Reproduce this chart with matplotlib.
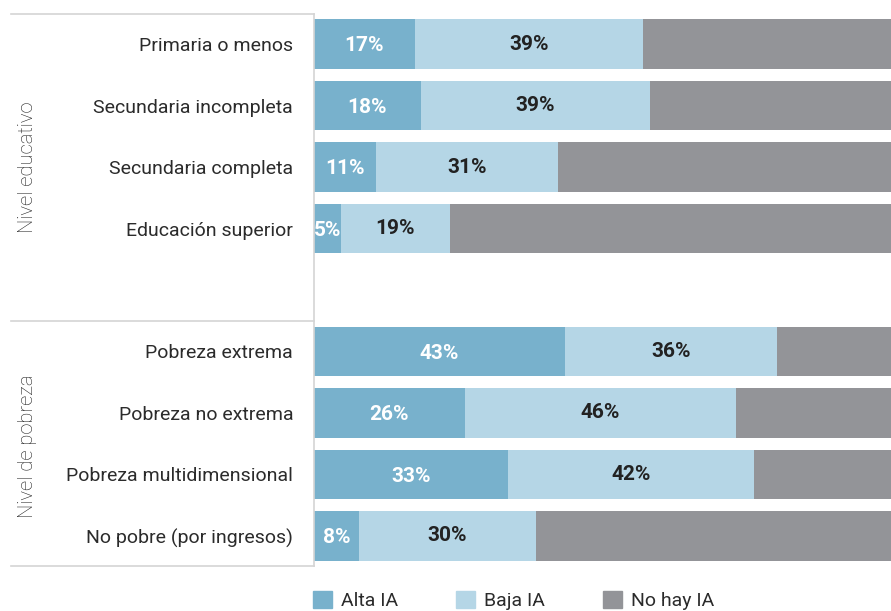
import matplotlib.pyplot as plt
from matplotlib.patches import Patch

plt.rcParams['font.family'] = ['Roboto', 'DejaVu Sans']

# datos (porcentajes)
categorias = ['Primaria o menos', 'Secundaria incompleta', 'Secundaria completa', 'Educación superior',
              '',
              'Pobreza extrema', 'Pobreza no extrema', 'Pobreza multidimensional', 'No pobre (por ingresos)']
alta_ia = [17.3, 18.3, 10.6, 4.6, 0, 43.0, 25.9, 33.2, 7.7]
baja_ia = [39.1, 39.4, 31.2, 18.7, 0, 36.4, 46.4, 42.3, 30.4]
no_hay_ia = [43.6, 42.3, 58.2, 76.7, 0, 20.6, 27.7, 24.5, 61.9]
grupos = ['Nivel educativo', 'Nivel de pobreza']
series = ['Alta IA', 'Baja IA', 'No hay IA']

c_alta = '#78b1cc'
c_baja = '#b5d6e6'
c_no = '#939498'
c_linea = '#d4d4d4'
c_texto = '#2b2b2b'

fig = plt.figure(figsize=(8.91, 6.11), dpi=100)
ax = fig.add_axes([314 / 891, 45 / 611, 583 / 891, 552 / 611])

y = list(range(len(categorias)))
h = 0.81
ax.barh(y, alta_ia, height=h, color=c_alta, edgecolor='none')
ax.barh(y, baja_ia, left=alta_ia, height=h, color=c_baja, edgecolor='none')
izq = [a + b for a, b in zip(alta_ia, baja_ia)]
ax.barh(y, no_hay_ia, left=izq, height=h, color=c_no, edgecolor='none')

# etiquetas de valores
for i in y:
    if categorias[i] == '':
        continue
    ax.text(alta_ia[i] / 2, i + 0.03, f'{round(alta_ia[i])}%', ha='center', va='center',
            color='white', fontsize=15, fontweight='bold')
    ax.text(alta_ia[i] + baja_ia[i] / 2, i, f'{round(baja_ia[i])}%', ha='center', va='center',
            color='#222222', fontsize=15, fontweight='bold')

ax.set_xlim(0, 100)
ax.set_ylim(8.49, -0.49)
ax.set_yticks([i for i in y if categorias[i] != ''])
ax.set_yticklabels([c for c in categorias if c != ''], fontsize=14, color=c_texto)
ax.tick_params(axis='y', length=0, pad=15)
ax.set_xticks([])
for s in ['top', 'right', 'bottom']:
    ax.spines[s].set_visible(False)
ax.spines['left'].set_color(c_linea)
ax.spines['left'].set_linewidth(1.2)

# lineas de separacion de grupos
for yy in [-0.49, 4.5, 8.49]:
    ax.plot([-52, 0], [yy, yy], color=c_linea, lw=1.2, clip_on=False)

# titulos de grupo (centrados en el bloque de cada grupo)
ax.text(-49.2, 2.0, grupos[0], rotation=90, ha='center', va='center', fontsize=14.5,
        color='#1e1e1e', fontweight='light')
ax.text(-49.2, 6.55, grupos[1], rotation=90, ha='center', va='center', fontsize=14.5,
        color='#1e1e1e', fontweight='light')

handles = [Patch(color=c_alta), Patch(color=c_baja), Patch(color=c_no)]
fig.legend(handles, series, loc='upper left', bbox_to_anchor=(313 / 891, 1 - 591 / 611),
           ncol=3, frameon=False, fontsize=14, handlelength=0.98, handleheight=0.98,
           handletextpad=0.45, columnspacing=3.0, borderpad=0, borderaxespad=0,
           labelcolor=c_texto)

fig.savefig('out.png', dpi=100)
